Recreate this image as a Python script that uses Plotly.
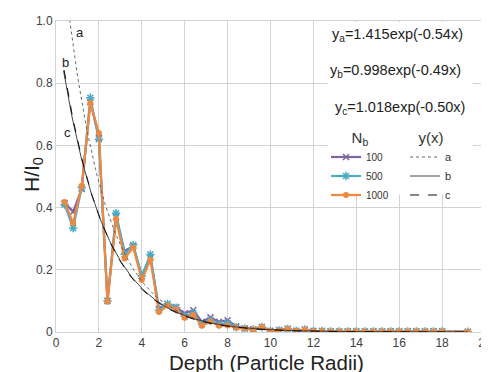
import numpy as np
import plotly.graph_objects as go

# ---- data ----
depth = [0.4, 0.8, 1.2, 1.6, 2.0, 2.4, 2.8, 3.2, 3.6, 4.0, 4.4, 4.8, 5.2, 5.6, 6.0, 6.4,
         6.8, 7.2, 7.6, 8.0, 8.4, 8.8, 9.2, 9.6, 10.0, 10.4, 10.8, 11.2, 11.6, 12.0, 12.4,
         12.8, 13.2, 13.6, 14.0, 14.4, 14.8, 15.2, 15.6, 16.0, 16.4, 16.8, 17.2, 17.6, 18.0, 19.2]

tail = [0.003, 0.002, 0.002, 0.002, 0.002, 0.002, 0.002, 0.002, 0.002, 0.002, 0.002,
        0.002, 0.002, 0.002, 0.002, 0.001]

nb100 = [0.415, 0.387, 0.46, 0.74, 0.625, 0.10, 0.37, 0.259, 0.277, 0.18, 0.24, 0.075,
         0.09, 0.08, 0.06, 0.07, 0.033, 0.047, 0.033, 0.038, 0.018, 0.012, 0.009, 0.016,
         0.004, 0.006, 0.010, 0.004, 0.008, 0.003] + tail
nb500 = [0.41, 0.334, 0.465, 0.753, 0.62, 0.10, 0.382, 0.25, 0.28, 0.18, 0.249, 0.07,
         0.09, 0.078, 0.05, 0.06, 0.025, 0.038, 0.025, 0.028, 0.015, 0.011, 0.008, 0.016,
         0.003, 0.005, 0.010, 0.003, 0.008, 0.003] + tail
nb1000 = [0.418, 0.350, 0.470, 0.736, 0.640, 0.098, 0.363, 0.236, 0.272, 0.167, 0.232, 0.064,
          0.085, 0.073, 0.046, 0.055, 0.020, 0.034, 0.020, 0.021, 0.014, 0.011, 0.008, 0.016,
          0.003, 0.005, 0.010, 0.003, 0.008, 0.003] + tail

fit_names = ["a", "b", "c"]
fit_amp = [1.415, 0.998, 1.018]
fit_rate = [0.54, 0.49, 0.50]
fit_start = [0.6, 0.35, 0.38]
fit_end = 19.2

x_ticks = [0, 2, 4, 6, 8, 10, 12, 14, 16, 18, 20]
y_ticks = [0, 0.2, 0.4, 0.6, 0.8, 1.0]
y_ticktext = ["0", "0.2", "0.4", "0.6", "0.8", "1.0"]

# ---- geometry (page pixels; page body has an 8px margin) ----
OFF = 8
PL, PR, PT, PB = 56, 485, 21, 332   # plot area in the screenshot
W, H = 489 - OFF, 388 - OFF          # taller than the window: bottom is cut like the reference
pw, ph = PR - PL, PB - PT


def px(xp):
    return (xp - PL) / pw


def py(yp):
    return (PB - yp) / ph


# ---- figure ----
fig = go.Figure()

series = [
    ("100", nb100, "#8064A2", dict(symbol="x-thin-open", size=6, line=dict(width=1.5, color="#8064A2"))),
    ("500", nb500, "#4BACC6", dict(symbol="asterisk-open", size=7, line=dict(width=1.5, color="#4BACC6"))),
    ("1000", nb1000, "#F0883E", dict(symbol="circle", size=6, color="#F0883E")),
]
for name, vals, col, mk in series:
    fig.add_trace(go.Scatter(x=depth, y=vals, mode="lines+markers", name=name,
                             line=dict(color=col, width=2.2), marker=mk,
                             legend="legend"))

dashes = ["dot", "solid", "dash"]
cols = ["#666666", "#444444", "#111111"]
for nm, A, k, x0, ds, c in zip(fit_names, fit_amp, fit_rate, fit_start, dashes, cols):
    xs = np.linspace(x0, fit_end, 300)
    fig.add_trace(go.Scatter(x=xs, y=A * np.exp(-k * xs), mode="lines", name=nm,
                             line=dict(color=c, width=1, dash=ds), legend="legend2"))

grid = "#d3d3d3"
fig.update_layout(
    width=W, height=H,
    margin=dict(l=PL - OFF, r=W - (PR - OFF), t=PT - OFF, b=H - (PB - OFF)),
    paper_bgcolor="white", plot_bgcolor="white",
    font=dict(family="Liberation Sans, Arial, sans-serif", color="#333333"),
    xaxis=dict(range=[0, 20], tickvals=x_ticks, showgrid=True, gridcolor=grid,
               zeroline=False, showline=True, mirror=True, linecolor=grid,
               ticks="", tickfont=dict(size=12, color="#404040"), automargin=False,
               ticklabeloverflow="allow"),
    yaxis=dict(range=[0, 1.0], tickvals=y_ticks, ticktext=y_ticktext, showgrid=True,
               gridcolor=grid, zeroline=False, showline=True, mirror=True, linecolor=grid,
               ticks="", tickfont=dict(size=12, color="#404040"), automargin=False),
    legend=dict(x=px(326), y=py(123), xref="paper", yref="paper",
                xanchor="left", yanchor="top", bgcolor="rgba(0,0,0,0)",
                font=dict(size=10, color="#333"), tracegroupgap=0, itemwidth=30,
                title=dict(text="N<sub>b</sub>", side="top center", font=dict(size=15))),
    legend2=dict(x=px(405), y=py(123), xref="paper", yref="paper",
                 xanchor="left", yanchor="top", bgcolor="rgba(0,0,0,0)",
                 font=dict(size=11, color="#333"), tracegroupgap=0, itemwidth=30,
                 title=dict(text="y(x)", side="top center", font=dict(size=15))),
    showlegend=True,
)

# white box behind equations/legend
fig.add_shape(type="rect", xref="x", yref="y", x0=12.68, x1=19.44, y0=0.441, y1=0.997,
              fillcolor="white", line=dict(width=0), layer="between")

eqs = ["y<sub>a</sub>=1.415exp(-0.54x)", "y<sub>b</sub>=0.998exp(-0.49x)",
       "y<sub>c</sub>=1.018exp(-0.50x)"]
eq_pos = [(15.9, 0.955), (15.85, 0.840), (16.04, 0.721)]
for t, (ex, ey) in zip(eqs, eq_pos):
    fig.add_annotation(x=ex, y=ey, xref="x", yref="y", text=t, showarrow=False,
                       font=dict(size=14.5, color="#222"))

for nm, (lx, ly) in zip(fit_names, [(1.12, 0.963), (0.45, 0.867), (0.54, 0.642)]):
    fig.add_annotation(x=lx, y=ly, xref="x", yref="y", text=nm, showarrow=False,
                       font=dict(size=13, color="#222"))

fig.add_annotation(x=px(18), y=py(175), xref="paper", yref="paper",
                   text="H/I<sub>0</sub>", textangle=-90, showarrow=False,
                   font=dict(size=21, color="#222"))
fig.add_annotation(x=px(266), y=py(349), xref="paper", yref="paper", yanchor="top",
                   text="Depth (Particle Radii)", showarrow=False,
                   font=dict(size=20.5, color="#222"))

fig.write_html("out.html")
